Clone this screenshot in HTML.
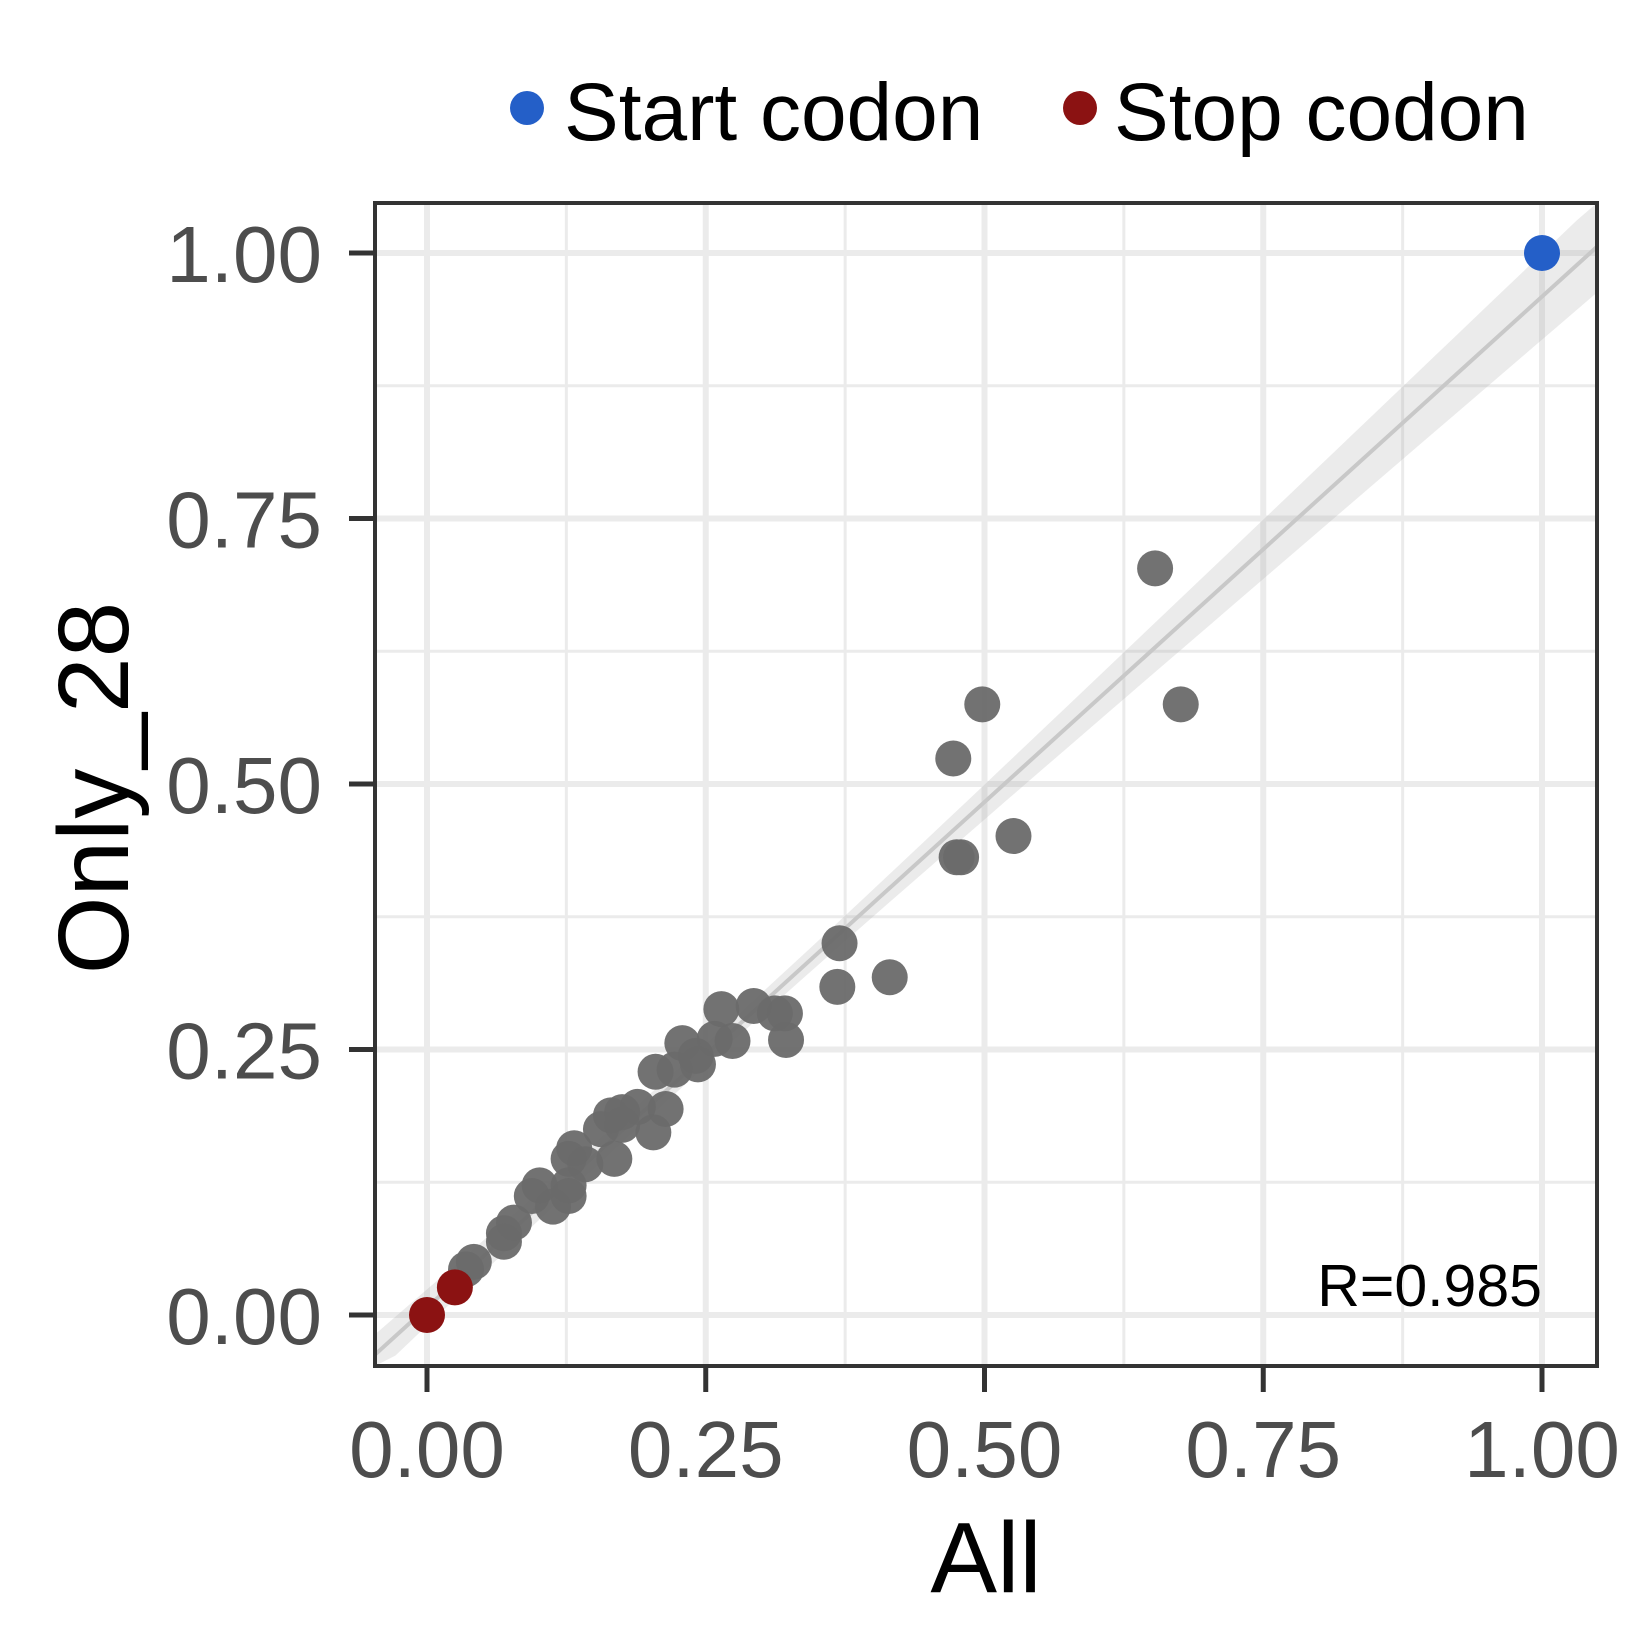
<!DOCTYPE html>
<html><head><meta charset="utf-8"><style>
html,body{margin:0;padding:0;background:#fff}
svg{display:block;font-family:"Liberation Sans",Arial,sans-serif}
</style></head><body>
<svg id="chart" width="1650" height="1650" viewBox="0 0 1650 1650" xmlns="http://www.w3.org/2000/svg">
<g id="legend">
  <circle cx="527" cy="108" r="17" fill="#245fc8"/>
  <text x="564" y="140" font-size="82" fill="#000">Start codon</text>
  <circle cx="1080" cy="108" r="17" fill="#8b1212"/>
  <text x="1114" y="140" font-size="82" fill="#000">Stop codon</text>
</g>
<g id="grid"></g>
<g id="band"></g>
<g id="points"></g>
<rect x="375" y="203" width="1222" height="1163" fill="none" stroke="#333" stroke-width="4"/>
<g id="axes"></g>
<text x="1542" y="1306" font-size="59" text-anchor="end" fill="#000">R=0.985</text>
<text x="986" y="1592" font-size="100" text-anchor="middle" fill="#000">All</text>
<text x="0" y="0" font-size="100" text-anchor="middle" fill="#000" transform="translate(128,788) rotate(-90)">Only_28</text>
</svg>
<script>
const xTicks = [0, 0.25, 0.5, 0.75, 1];
const yTicks = [0, 0.25, 0.5, 0.75, 1];
const tickLabels = ["0.00", "0.25", "0.50", "0.75", "1.00"];
const otherX = [0.653,0.498,0.676,0.472,0.526,0.475,0.479,0.370,0.368,0.415,0.264,0.293,0.312,0.321,0.322,0.274,0.258,0.229,0.241,0.243,0.222,0.205,0.214,0.189,0.175,0.165,0.203,0.175,0.156,0.168,0.132,0.127,0.142,0.127,0.127,0.101,0.094,0.113,0.078,0.069,0.069,0.042,0.035];
const otherY = [0.703,0.575,0.575,0.524,0.451,0.431,0.431,0.350,0.309,0.318,0.288,0.291,0.284,0.284,0.259,0.258,0.260,0.256,0.244,0.236,0.231,0.229,0.194,0.196,0.191,0.188,0.172,0.179,0.175,0.147,0.157,0.147,0.142,0.122,0.112,0.122,0.112,0.102,0.087,0.077,0.069,0.050,0.043];
const stopX = [0, 0.025];
const stopY = [0, 0.026];
const startX = [1];
const startY = [1];

const NS = "http://www.w3.org/2000/svg";
const PL = 375, PR = 1597, PT = 203, PB = 1366;
const sx = v => 427 + v * 1115;
const sy = v => 1315 - v * 1062;
function mk(tag, attrs, parent) {
  const e = document.createElementNS(NS, tag);
  for (const k in attrs) e.setAttribute(k, attrs[k]);
  parent.appendChild(e);
  return e;
}
const grid = document.getElementById('grid');
const axes = document.getElementById('axes');
mk('rect', {x: PL, y: PT, width: PR - PL, height: PB - PT, fill: '#fff'}, grid);
for (let i = 0; i < xTicks.length - 1; i++) {
  const m = (xTicks[i] + xTicks[i + 1]) / 2;
  const l = mk('line', {x1: sx(m), x2: sx(m), y1: PT, y2: PB, stroke: '#ebebeb', 'stroke-width': 3}, grid);
  
  
  const my = (yTicks[i] + yTicks[i + 1]) / 2;
  const l2 = mk('line', {x1: PL, x2: PR, y1: sy(my), y2: sy(my), stroke: '#ebebeb', 'stroke-width': 3}, grid);
  
  
}
xTicks.forEach((t, i) => {
  const g = mk('line', {x1: sx(t), x2: sx(t), y1: PT, y2: PB, stroke: '#ebebeb', 'stroke-width': 6}, grid);
  
  
  const tk = mk('line', {x1: sx(t), x2: sx(t), y1: PB, y2: PB + 26, stroke: '#333', 'stroke-width': 5}, axes);
  
  
  const tx = mk('text', {x: sx(t), y: 1477, 'font-size': 80, 'text-anchor': 'middle', fill: '#4d4d4d'}, axes);
  tx.textContent = tickLabels[i];
  
  
});
yTicks.forEach((t, i) => {
  const g = mk('line', {x1: PL, x2: PR, y1: sy(t), y2: sy(t), stroke: '#ebebeb', 'stroke-width': 6}, grid);
  
  
  const tk = mk('line', {x1: PL - 26, x2: PL, y1: sy(t), y2: sy(t), stroke: '#333', 'stroke-width': 5}, axes);
  
  
  const tx = mk('text', {x: 322, y: sy(t) + 29, 'font-size': 80, 'text-anchor': 'end', fill: '#4d4d4d'}, axes);
  tx.textContent = tickLabels[i];
  
  
});
const AX = otherX.concat(stopX, startX), AY = otherY.concat(stopY, startY);
const n = AX.length;
const mx = AX.reduce((a, b) => a + b, 0) / n, my = AY.reduce((a, b) => a + b, 0) / n;
let sxx = 0, sxy = 0;
for (let i = 0; i < n; i++) { sxx += (AX[i] - mx) ** 2; sxy += (AX[i] - mx) * (AY[i] - my); }
const b = sxy / sxx, a = my - b * mx;
let sse = 0;
for (let i = 0; i < n; i++) sse += (AY[i] - a - b * AX[i]) ** 2;
const s = Math.sqrt(sse / (n - 2)), tq = 2.01;
const x0 = (PL - 427) / 1115, x1 = (PR - 427) / 1115;
const up = [], lo = [];
for (let k = 0; k <= 60; k++) {
  const x = x0 + (x1 - x0) * k / 60;
  const se = s * Math.sqrt(1 / n + (x - mx) ** 2 / sxx) * tq;
  const yh = a + b * x;
  up.push(sx(x) + ',' + Math.max(PT, sy(yh + se)));
  lo.unshift(sx(x) + ',' + Math.min(PB, sy(yh - se)));
}
const band = document.getElementById('band');
const poly = mk('polygon', {points: up.concat(lo).join(' '), fill: '#999', 'fill-opacity': 0.2}, band);


const fit = mk('line', {x1: sx(x0), y1: sy(a + b * x0), x2: sx(x1), y2: sy(a + b * x1), stroke: '#c8c8c8', 'stroke-width': 4}, band);


const pts = document.getElementById('points');
otherX.forEach((x, i) => {
  const c = mk('circle', {cx: sx(x), cy: sy(otherY[i]), r: 18, fill: '#6a6a6a', 'fill-opacity': 0.95}, pts);
  
  
});
stopX.forEach((x, i) => {
  const c = mk('circle', {cx: sx(x), cy: sy(stopY[i]), r: 18, fill: '#8b1212'}, pts);
  
  
});
startX.forEach((x, i) => {
  const c = mk('circle', {cx: sx(x), cy: sy(startY[i]), r: 18, fill: '#245fc8'}, pts);
  
  
});
</script>
</body></html>
